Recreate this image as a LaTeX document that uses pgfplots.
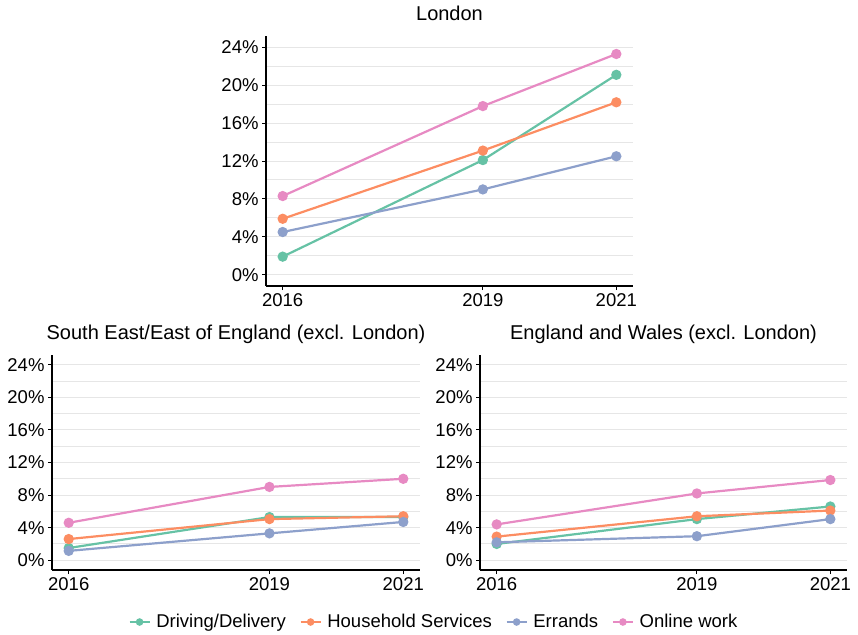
\documentclass[border=0pt]{standalone}
\usepackage{pgfplots}
\pgfplotsset{compat=1.18}
\usepackage{fontspec}
\setmainfont{Liberation Sans}
\definecolor{cgreen}{HTML}{66C2A5}
\definecolor{corange}{HTML}{FC8D62}
\definecolor{cblue}{HTML}{8DA0CB}
\definecolor{cpink}{HTML}{E78AC3}
\definecolor{gridc}{HTML}{E6E6E6}
\pgfplotsset{
  panel/.style={
    scale only axis,
    axis x line=bottom, axis y line=left,
    axis line style={-, line width=1.2pt, black},
    xmin=2015.75, xmax=2021.25,
    ymin=-1.2, ymax=25.2,
    xtick={2016,2019,2021}, xticklabels={2016,2019,2021},
    ytick={0,4,...,24}, yticklabels={0\%,4\%,8\%,12\%,16\%,20\%,24\%},
    minor ytick={2,6,...,22},
    ymajorgrids, yminorgrids,
    major grid style={gridc, line width=0.9pt},
    minor grid style={gridc, line width=0.9pt},
    tick align=outside,
    major tick length=4pt, minor tick length=0pt,
    tick style={black, line width=0.9pt},
    ticklabel style={font=\fontsize{18.5}{20}\selectfont, text=black},
    /pgf/number format/assume math mode=true,
    title style={font=\fontsize{20}{22}\selectfont, anchor=base, at={(0.5,1)}, yshift=10pt},
    every axis plot/.append style={line width=2.2pt, mark=*, mark size=4pt},
    clip=false,
  },
}
\begin{document}
\begin{tikzpicture}
\useasboundingbox (0,0) rectangle (858pt,-634pt);
% London
\begin{axis}[panel, at={(266pt,-286pt)}, anchor=south west, width=367pt, height=250pt,
  title={London},
  legend style={at={(0.458,-1.344)}, anchor=center, draw=none, fill=none,
    legend columns=4, font=\fontsize{18.5}{20}\selectfont,
    /tikz/every odd column/.append style={column sep=4pt},
    /tikz/every even column/.append style={column sep=12pt}},
  legend image code/.code={\draw[mark repeat=2,mark phase=2,line width=1.5pt,mark size=3pt] plot coordinates {(0pt,0pt)(10pt,0pt)(20pt,0pt)};}]
\addplot[cgreen] coordinates {(2016,1.9)(2019,12.1)(2021,21.1)};
\addplot[corange] coordinates {(2016,5.9)(2019,13.1)(2021,18.2)};
\addplot[cblue] coordinates {(2016,4.5)(2019,9.0)(2021,12.5)};
\addplot[cpink] coordinates {(2016,8.3)(2019,17.8)(2021,23.3)};
\legend{Driving/Delivery, Household Services, Errands, Online work}
\end{axis}
% South East / East
\begin{axis}[panel, at={(52pt,-570pt)}, anchor=south west, width=368pt, height=215pt,
  title={South East/East of England (excl. London)}]
\addplot[cgreen] coordinates {(2016,1.5)(2019,5.3)(2021,5.3)};
\addplot[corange] coordinates {(2016,2.6)(2019,5.05)(2021,5.4)};
\addplot[cblue] coordinates {(2016,1.15)(2019,3.3)(2021,4.7)};
\addplot[cpink] coordinates {(2016,4.6)(2019,9.0)(2021,10.0)};
\end{axis}
% England and Wales
\begin{axis}[panel, at={(480pt,-570pt)}, anchor=south west, width=367pt, height=215pt,
  title={England and Wales (excl. London)}]
\addplot[cgreen] coordinates {(2016,2.0)(2019,5.05)(2021,6.6)};
\addplot[corange] coordinates {(2016,2.9)(2019,5.4)(2021,6.1)};
\addplot[cblue] coordinates {(2016,2.2)(2019,2.95)(2021,5.05)};
\addplot[cpink] coordinates {(2016,4.4)(2019,8.2)(2021,9.85)};
\end{axis}
\end{tikzpicture}
\end{document}
